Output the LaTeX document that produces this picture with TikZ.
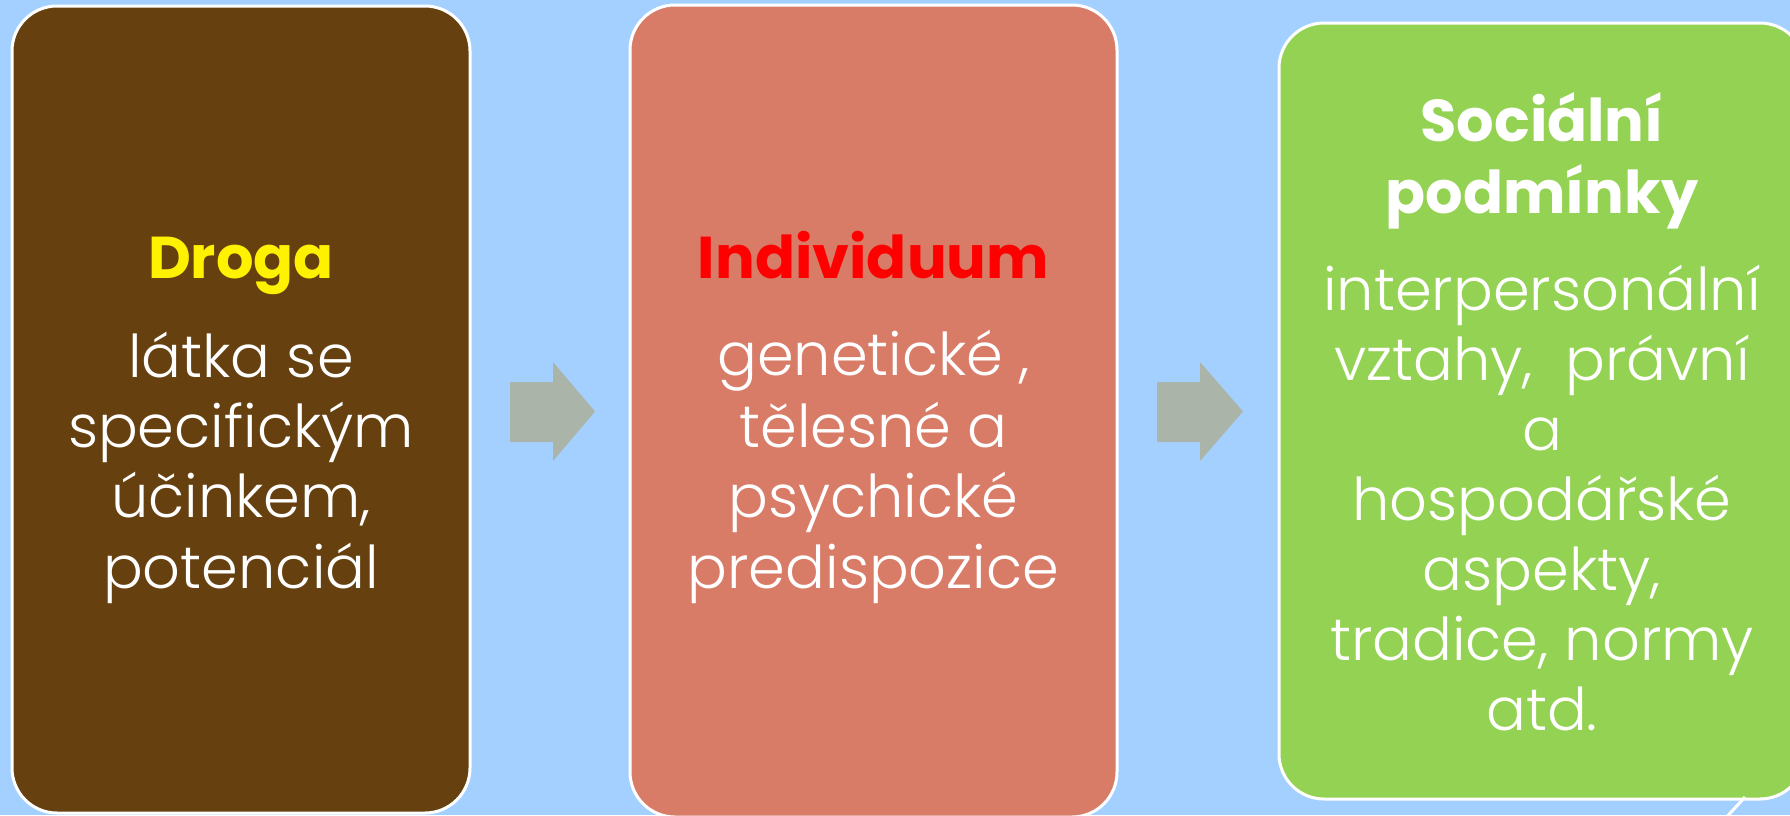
\documentclass[tikz,border=0pt]{standalone}
\usepackage{fontspec}
\setmainfont{Poppins}
\newfontfamily\lightfont{Poppins Light}
\definecolor{bgblue}{HTML}{A3D0FF}
\definecolor{brownbox}{HTML}{66400F}
\definecolor{salmonbox}{HTML}{D87C68}
\definecolor{greenbox}{HTML}{93D252}
\definecolor{arrowgray}{HTML}{ABB4A8}
\tikzset{
  panel/.style={draw=white, line width=1.5pt, rounded corners=22.5pt, inner sep=0pt},
  titletext/.style={font=\fontsize{29.5}{36}\selectfont\bfseries, anchor=base, inner sep=0pt},
  bodytext/.style={font=\fontsize{29.5}{35}\lightfont, text=white, anchor=base, inner sep=0pt},
  blockarrow/.style={fill=arrowgray},
}
\begin{document}
\begin{tikzpicture}[x=0.5pt,y=-0.5pt]
\useasboundingbox (0,0) rectangle (1790,815);
\clip (0,0) rectangle (1790,815);
\fill[bgblue] (0,0) rectangle (1790,815);
% panels
\node[panel, fill=brownbox, minimum width=229pt, minimum height=403.5pt] (box1) at (241,409.5) {};
\node[panel, fill=salmonbox, minimum width=243.5pt, minimum height=406pt] (box2) at (873.5,411) {};
\node[panel, fill=greenbox, minimum width=263pt, minimum height=388pt] (box3) at (1542,411) {};
% block arrows
\fill[blockarrow] (510,382) -- (553,382) -- (553,362) -- (595,411.5) -- (553,461) -- (553,442) -- (510,442) -- cycle;
\fill[blockarrow] (1157,382) -- (1200,382) -- (1200,362) -- (1243,411.5) -- (1200,461) -- (1200,442) -- (1157,442) -- cycle;
% partial line at bottom right
\coordinate (tail) at (1722,822);
\draw[white, line width=1.5pt] (1745,797) -- (tail);
% box 1 text
\node[titletext, text=yellow] (t1) at (241,278) {Droga};
\node[bodytext] (b1a) at (241,377) {látka se};
\node[bodytext] (b1b) at (241,447) {specifickým};
\node[bodytext] (b1c) at (241,517) {účinkem,};
\node[bodytext] (b1d) at (241,588) {potenciál};
% box 2 text
\node[titletext, text=red] (t2) at (873.5,278) {Individuum};
\node[bodytext] (b2a) at (873.5,375) {genetické ,};
\node[bodytext] (b2b) at (873.5,447) {tělesné a};
\node[bodytext] (b2c) at (873.5,517) {psychické};
\node[bodytext] (b2d) at (873.5,588) {predispozice};
% box 3 text
\node[titletext, text=white] (t3a) at (1542,141) {Sociální};
\node[titletext, text=white] (t3b) at (1542,213) {podmínky};
\node[bodytext] (b3a) at (1542,310) {interpersonální};
\node[bodytext] (b3b) at (1542,380) {vztahy,\ \ právní};
\node[bodytext] (b3c) at (1542,450) {a};
\node[bodytext] (b3d) at (1542,520) {hospodářské};
\node[bodytext] (b3e) at (1542,590) {aspekty,};
\node[bodytext] (b3f) at (1542,660) {tradice, normy};
\node[bodytext] (b3g) at (1542,730) {atd.};
\end{tikzpicture}
\end{document}
